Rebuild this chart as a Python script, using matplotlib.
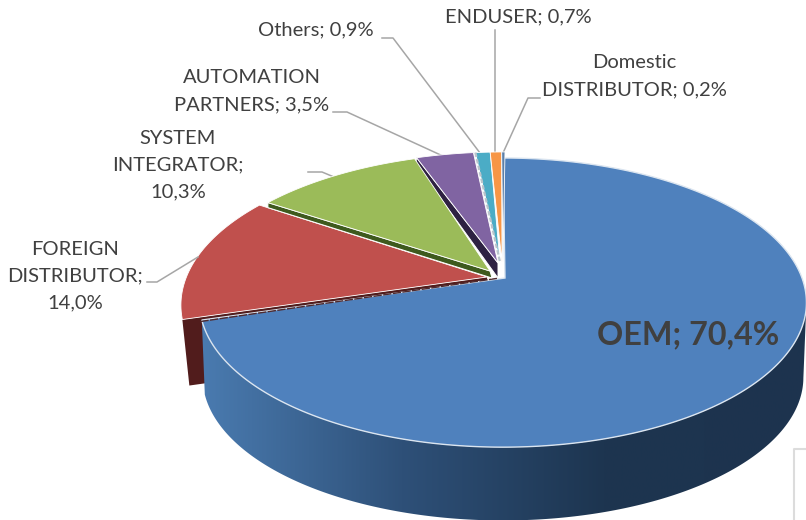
import numpy as np
import matplotlib
matplotlib.use("Agg")
import matplotlib.pyplot as plt
from matplotlib.patches import Polygon
from matplotlib.colors import LinearSegmentedColormap

categories = ["OEM", "FOREIGN\nDISTRIBUTOR", "SYSTEM\nINTEGRATOR", "AUTOMATION\nPARTNERS",
              "Others", "ENDUSER", "Domestic\nDISTRIBUTOR"]
values = [70.4, 14.0, 10.3, 3.5, 0.9, 0.7, 0.2]
value_labels = ["70,4%", "14,0%", "10,3%", "3,5%", "0,9%", "0,7%", "0,2%"]
colors = ["#4f81bd", "#c0504d", "#9bbb59", "#8064a2", "#4bacc6", "#f79646", "#5c7fa8"]

# projection and slice styling (pixels)
X0, Y0, A, B, K = 503, 278, 299, 140.4, 0.17
radius = [1.0, 1.05, 1.03, 1.03, 1.03, 1.03, 1.03]
arc_off = [(0, 0), (-3, 0), (-2, -2), (0, -3), (2, -3), (2, -3), (2, -3)]
trim_deg = [0, 1.0, 0, 0, 0, 0, 0]
apex = [(505, 278), (487, 277), (490, 271), (498, 263), (500, 262), (502, 262), (503, 262)]


def project(theta, r=1.0, y0=Y0, scale=1.0):
    u, v = r * np.sin(theta), r * np.cos(theta)
    w = 1 + K * v
    return X0 + scale * A * u / w, y0 - scale * B * v / w


def arc(t0, t1, r=1.0, off=(0, 0), y0=Y0, scale=1.0):
    t = np.linspace(t0, t1, max(int((t1 - t0) * 90), 4))
    x, y = project(t, r, y0, scale)
    return np.column_stack([x + off[0], y + off[1]])


edges = np.radians(np.concatenate([[0], np.cumsum(values)]) * 3.6)

fig = plt.figure(figsize=(8.06, 5.20), dpi=100)
ax = fig.add_axes([0, 0, 1, 1])
ax.set_xlim(0, 806)
ax.set_ylim(520, 0)
ax.axis("off")
plt.rcParams["font.family"] = ["Lato", "DejaVu Sans"]

# faint box corner, lower right
ax.plot([794, 794, 806], [520, 449, 449], color="#dcdcdc", lw=1.5, zorder=1)

arcs = [arc(edges[i] + np.radians(trim_deg[i]), edges[i + 1] - np.radians(trim_deg[i]),
            radius[i], arc_off[i]) for i in range(len(values))]

# red slice: end block
red_c = arcs[1][0]
red_a = np.array(apex[1], float)
ax.add_patch(Polygon([red_c, red_a, red_a + (5, 66), red_c + (7, 66)],
                     fc="#511c1c", ec="none", zorder=2))

# blue outer wall with gradient
t_right = np.radians(100)
top_ring = arc(t_right, edges[1])
bot_ring = arc(t_right, edges[1], y0=Y0 + 75, scale=0.99)
wall = Polygon(np.vstack([top_ring, bot_ring[::-1]]), fc="none", ec="none", zorder=3)
ax.add_patch(wall)
cmap = LinearSegmentedColormap.from_list("wall", ["#4a7bb0", "#2e5078", "#1d3550", "#1d334e"])
grad = np.linspace(0, 1, 256).reshape(1, -1)
img = ax.imshow(grad, extent=(200, 806, 520, 150), aspect="auto", cmap=cmap, zorder=3)
img.set_clip_path(wall)
ax.set_xlim(0, 806)
ax.set_ylim(520, 0)

# blue top
ax.add_patch(Polygon(np.vstack([apex[0], arcs[0]]), fc=colors[0], ec="#dbe5f0", lw=1.0, zorder=4))

# thin radial faces of the lifted slices
ax.add_patch(Polygon([arcs[2][0], apex[2], np.array(apex[2]) + (2, 7), arcs[2][0] + (0, 5)],
                     fc="#3e5a1e", ec="white", lw=0.7, zorder=5))
ax.add_patch(Polygon([arcs[3][0], apex[3], np.array(apex[3]) + (0, 15), arcs[3][0] + (-1, 6)],
                     fc="#2e2142", ec="white", lw=0.7, zorder=5))

# top faces of the remaining slices
for i in range(1, len(values)):
    z = 4.5 if i == 1 else 6
    ax.add_patch(Polygon(np.vstack([apex[i], arcs[i]]), fc=colors[i], ec="white", lw=0.6, zorder=z))
ax.plot([arcs[1][0][0] + 18, apex[1][0] + 10], [arcs[1][0][1] + 2.0, apex[1][1] + 1.4],
        color="#4f2a2e", lw=1.0, ls=(0, (6, 1)), zorder=4.6)
ax.plot([arcs[4][0][0], apex[4][0]], [arcs[4][0][1], apex[4][1]], color="#b9c4cc",
        lw=1.6, ls=(0, (2, 1)), zorder=7)

# leader lines
leaders = [
    ([147, 157, 198], [282, 282, 257]),
    ([308, 322, 334], [172, 172, 177]),
    ([333, 347, 445], [112, 112, 157]),
    ([382, 393, 480], [38, 38, 153]),
    ([495, 495], [30, 153]),
    ([540, 528, 503], [98, 98, 153]),
]
for xs, ys in leaders:
    ax.plot(xs, ys, color="#a6a6a6", lw=1.1, zorder=5)

# labels
txt = dict(color="#404040", fontsize=14.5, ha="center", va="center", linespacing=1.71, zorder=8)
label_pos = [(688, 335), (75, 276), (178, 165), (252, 91), (316, 30), (518, 17), (634, 76)]
wrapped = [
    None,
    "FOREIGN\nDISTRIBUTOR;\n14,0%",
    "SYSTEM\nINTEGRATOR;\n10,3%",
    "AUTOMATION\nPARTNERS; 3,5%",
    "Others; 0,9%",
    "ENDUSER; 0,7%",
    "Domestic\nDISTRIBUTOR; 0,2%",
]
for i in range(1, len(values)):
    ax.text(*label_pos[i], wrapped[i], **txt)
ax.text(*label_pos[0], f"{categories[0]}; {value_labels[0]}", color="#404040", fontsize=23.3,
        fontweight="bold", ha="center", va="center", zorder=8)

fig.savefig("out.png", dpi=100)
